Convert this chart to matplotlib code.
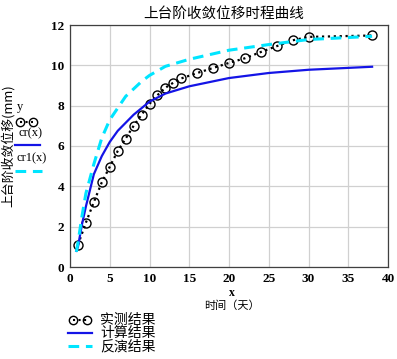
import numpy as np
import matplotlib
matplotlib.use("Agg")
import matplotlib.pyplot as plt
from matplotlib.lines import Line2D

plt.rcParams['font.family'] = ['Liberation Serif', 'Noto Sans CJK SC']

# measured (实测结果)
days = [1, 2, 3, 4, 5, 6, 7, 8, 9, 10, 11, 12, 13, 14, 16, 18, 20, 22, 24, 26, 28, 30, 38]
meas = [1.1, 2.2, 3.22, 4.2, 4.97, 5.75, 6.37, 7.0, 7.55, 8.09, 8.52, 8.89, 9.14, 9.35,
        9.62, 9.87, 10.12, 10.35, 10.66, 10.95, 11.24, 11.41, 11.48]

# computed cr(x) (计算结果)
cr_x = [0.8, 1, 1.5, 2, 3, 4, 5, 6, 7, 8, 10, 12, 15, 20, 25, 30, 38]
cr_y = [0.8, 1.0, 2.1, 3.0, 4.6, 5.5, 6.2, 6.75, 7.15, 7.55, 8.2, 8.6, 8.96, 9.37, 9.62, 9.78, 9.93]

# inverted cr1(x) (反演结果)
cr1_x = [0.8, 1, 1.5, 2, 3, 4, 5, 7, 9, 10, 12, 15, 20, 25, 30, 38]
cr1_y = [0.75, 1.2, 2.5, 3.65, 5.1, 6.4, 7.3, 8.46, 9.2, 9.5, 9.95, 10.3, 10.75, 11.03, 11.28, 11.44]

fig = plt.figure(figsize=(3.97, 3.59), dpi=100)
ax = fig.add_axes([70/397, 1-267/359, 318/397, 242/359])

ax.plot(days, meas, color='black', linestyle=':', linewidth=1.6,
        marker='o', markersize=6.5, markerfacecolor='none', markeredgecolor='black',
        markeredgewidth=1.0)
ax.plot(cr_x, cr_y, color='#1414e6', linewidth=1.6)
ax.plot(cr1_x, cr1_y, color='#00e5ff', linewidth=2.2, linestyle=(0, (3.5, 2.2)))

ax.set_xlim(0, 40)
ax.set_ylim(0, 12)
ax.set_xticks(np.arange(0, 41, 5))
ax.set_yticks(np.arange(0, 13, 2))
ax.grid(True, color='#d0d0d0', linewidth=0.9)
ax.set_axisbelow(True)
ax.tick_params(length=0, labelsize=9.5, pad=4)
for lbl in ax.get_xticklabels() + ax.get_yticklabels():
    lbl.set_fontweight('bold')
for s in ax.spines.values():
    s.set_color('#404040')
    s.set_linewidth(0.9)

fig.text(224/397, 1-14/359, '上台阶收敛位移时程曲线', ha='center', va='center', fontsize=10.5,
         family=['Noto Sans CJK SC'])
fig.text(232/397, 1-293/359, 'x', ha='center', va='center', fontsize=8.5, fontweight='bold')
fig.text(232/397, 1-306/359, '时间（天）', ha='center', va='center', fontsize=8,
         family=['Noto Sans CJK SC'])
fig.text(8/397, 1-146/359, '上台阶收敛位移(mm)', ha='center', va='center', rotation=90,
         fontsize=9.3, family=['Noto Sans CJK SC', 'Liberation Serif'])

# left legend (variable names)
fig.text(20/397, 1-107/359, 'y', ha='center', va='center', fontsize=9)
fig.add_artist(Line2D([20/397, 33/397], [1-122/359, 1-122/359], color='black', linestyle=':',
                      linewidth=1.5, marker='o', markersize=6, markerfacecolor='none'))
fig.text(30/397, 1-133/359, 'cr(x)', ha='center', va='center', fontsize=9)
fig.add_artist(Line2D([15/397, 40/397], [1-145/359, 1-145/359], color='#1414e6', linewidth=1.6))
fig.text(32/397, 1-158/359, 'cr1(x)', ha='center', va='center', fontsize=9)
fig.add_artist(Line2D([15/397, 42/397], [1-171/359, 1-171/359], color='#00e5ff', linewidth=2.2,
                      linestyle=(0, (3.5, 2.2))))

# bottom legend
rows = [320, 333, 346]
labels = ['实测结果', '计算结果', '反演结果']
fig.add_artist(Line2D([73/397, 87/397], [1-rows[0]/359]*2, color='black', linestyle=':',
                      linewidth=1.5, marker='o', markersize=6, markerfacecolor='none'))
fig.add_artist(Line2D([68/397, 92/397], [1-rows[1]/359]*2, color='#1414e6', linewidth=1.6))
fig.add_artist(Line2D([68/397, 92/397], [1-rows[2]/359]*2, color='#00e5ff', linewidth=2.2,
                      linestyle=(0, (3.5, 2.2))))
for r, lab in zip(rows, labels):
    fig.text(100/397, 1-r/359, lab, ha='left', va='center', fontsize=10,
             family=['Noto Sans CJK SC'])

fig.savefig('out.png', dpi=100)
